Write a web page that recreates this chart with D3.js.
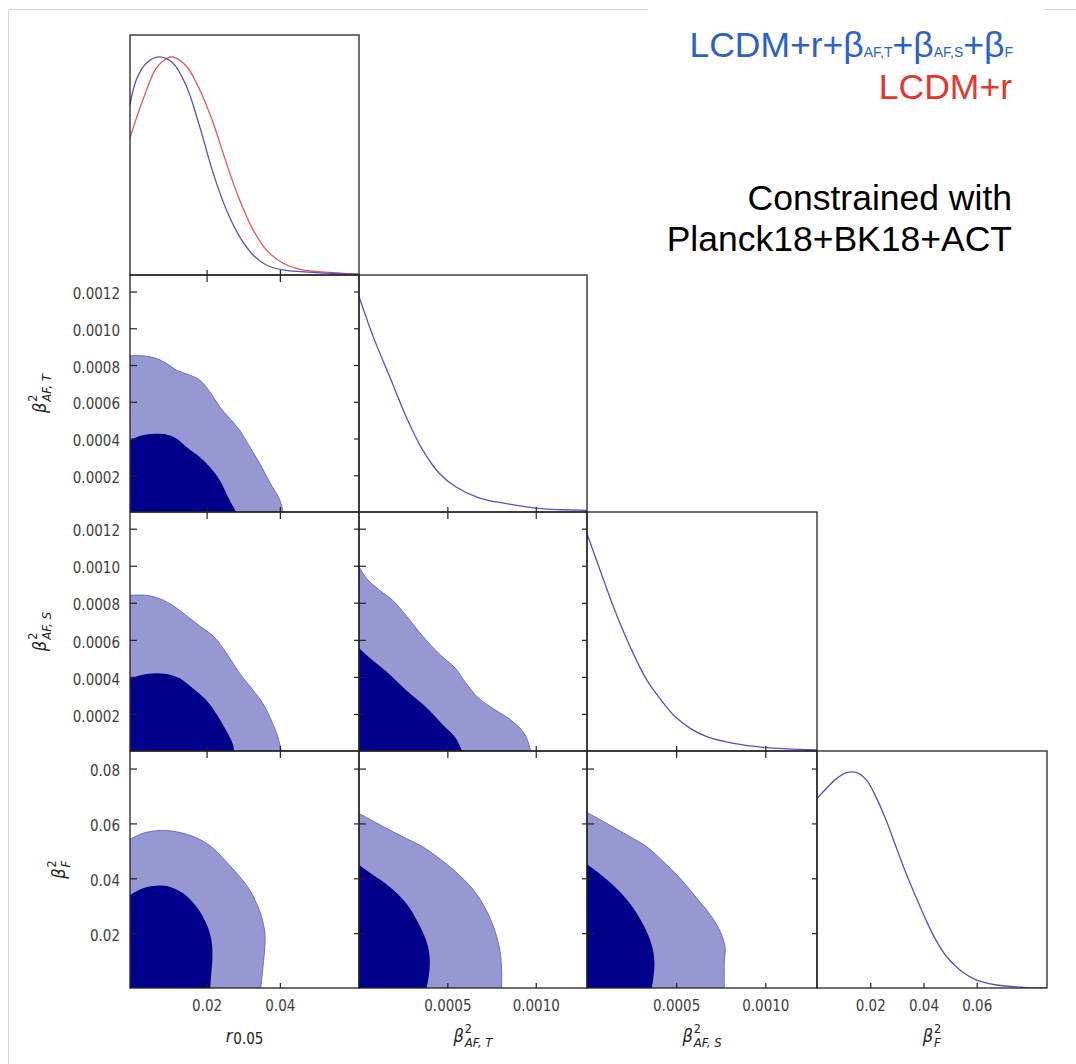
<!DOCTYPE html>
<html>
<head>
<meta charset="utf-8">
<script src="https://cdn.jsdelivr.net/npm/d3@7"></script>
<style>
  body { margin: 0; background: #fff; }
  svg { display: block; font-family: "DejaVu Sans Condensed", "DejaVu Sans", sans-serif; }
</style>
</head>
<body>
<svg id="chart" width="1076" height="1064"></svg>
<script>
// ---------- parameter limits ----------
const rRange = [-0.0009, 0.0616];
const betaATRange = [0, 0.00129];
const betaASRange = [0, 0.00129];
const betaFRange = [0, 0.0864];

// ---------- tick values ----------
const rTicks = [0.02, 0.04];
const betaAFxTicks = [0.0005, 0.0010];
const betaAFyTicks = [0.0002, 0.0004, 0.0006, 0.0008, 0.0010, 0.0012];
const betaFxTicks = [0.02, 0.04, 0.06];
const betaFyTicks = [0.02, 0.04, 0.06, 0.08];

// ---------- 1D marginals, normalised to a peak of 1 ----------
const rPdfFull = [[-0.0009,0.78],[0.00085,0.896],[0.0036,0.972],[0.0070,1.0],[0.0108,0.972],[0.0145,0.865],[0.0181,0.681],[0.0218,0.467],[0.0254,0.299],[0.0290,0.176],[0.0327,0.092],[0.0363,0.046],[0.0409,0.023],[0.0500,0.011],[0.0616,0.004]];
const rPdfLCDM = [[-0.0009,0.628],[0.00265,0.804],[0.0063,0.949],[0.0090,0.991],[0.0107,1.0],[0.0145,0.957],[0.0181,0.85],[0.0218,0.697],[0.0254,0.513],[0.0290,0.345],[0.0327,0.207],[0.0363,0.115],[0.0409,0.054],[0.0454,0.026],[0.0544,0.011],[0.0616,0.004]];
const betaATPdf = [[0,1.0],[0.00008,0.814],[0.000174,0.628],[0.000267,0.442],[0.00036,0.288],[0.000454,0.18],[0.000547,0.117],[0.000678,0.066],[0.000827,0.040],[0.001013,0.017],[0.00129,0.008]];
const betaASPdf = [[0,1.0],[0.000073,0.833],[0.000148,0.664],[0.000242,0.48],[0.000335,0.327],[0.000429,0.22],[0.000485,0.166],[0.000579,0.104],[0.000672,0.066],[0.000822,0.035],[0.00099,0.017],[0.00129,0.005]];
const betaFPdf = [[0,0.88],[0.0036,0.927],[0.0074,0.973],[0.0111,1.0],[0.0149,1.0],[0.0186,0.965],[0.0224,0.88],[0.0262,0.772],[0.0299,0.648],[0.0337,0.524],[0.0374,0.416],[0.0412,0.308],[0.045,0.215],[0.0487,0.145],[0.0537,0.084],[0.06,0.037],[0.0675,0.014],[0.0775,0.003],[0.0864,0.0]];

// ---------- 2D credible-region boundaries (68% inner, 95% outer) ----------
const rBetaATOuter = [[-0.0009,0.00085],[0.00265,0.00085],[0.0063,0.000836],[0.0090,0.000809],[0.0118,0.000772],[0.0154,0.000745],[0.0181,0.000718],[0.0209,0.000654],[0.0236,0.000572],[0.0263,0.000509],[0.0290,0.000445],[0.0318,0.000354],[0.0345,0.000264],[0.0372,0.000163],[0.0400,0.000064],[0.0409,0]];
const rBetaATInner = [[-0.0009,0.00039],[0.0012,0.00041],[0.0036,0.000422],[0.0090,0.000422],[0.0118,0.0004],[0.0145,0.000354],[0.0181,0.0003],[0.0209,0.000245],[0.0236,0.000173],[0.0263,0.000064],[0.0281,0]];
const rBetaASOuter = [[-0.0009,0.00084],[0.0036,0.00084],[0.0072,0.000822],[0.0108,0.000785],[0.0145,0.00073],[0.0181,0.000675],[0.0218,0.00062],[0.0254,0.000529],[0.0290,0.000419],[0.0327,0.000328],[0.0354,0.000255],[0.0381,0.000145],[0.0395,0.000072],[0.0404,0]];
const rBetaASInner = [[-0.0009,0.000392],[0.0036,0.000416],[0.0090,0.000416],[0.0127,0.000392],[0.0163,0.000337],[0.0200,0.000273],[0.0227,0.0002],[0.0254,0.000109],[0.0272,0.0000356],[0.0275,0]];
const betaATBetaASOuter = [[0,0.000995],[0.000043,0.000931],[0.000117,0.000867],[0.000192,0.000812],[0.000267,0.00073],[0.00036,0.00062],[0.000453,0.000525],[0.000546,0.000445],[0.000602,0.00037],[0.000677,0.000285],[0.00077,0.000222],[0.000863,0.000164],[0.000938,0.00009],[0.000971,0]];
const betaATBetaASInner = [[0,0.000556],[0.0000615,0.000502],[0.000155,0.000429],[0.000267,0.000328],[0.000379,0.000237],[0.000471,0.000145],[0.000546,0.000072],[0.000583,0]];
const rBetaFOuter = [[-0.0009,0.0542],[0.00265,0.0564],[0.0063,0.0573],[0.0099,0.0573],[0.0136,0.0564],[0.0181,0.0542],[0.0218,0.0509],[0.0254,0.046],[0.0290,0.0406],[0.0318,0.0357],[0.0336,0.0309],[0.0350,0.026],[0.0359,0.02],[0.0359,0.0151],[0.0354,0.0079],[0.0348,0]];
const rBetaFInner = [[-0.0009,0.0339],[0.00265,0.0364],[0.0063,0.0373],[0.0099,0.0369],[0.0136,0.0345],[0.0172,0.0297],[0.0199,0.0236],[0.0213,0.0176],[0.0216,0.0115],[0.0213,0.0055],[0.0210,0]];
const betaATBetaFOuter = [[0,0.0636],[0.00008,0.0608],[0.000173,0.0576],[0.000267,0.0545],[0.00036,0.0515],[0.000453,0.0473],[0.000546,0.0424],[0.000639,0.0364],[0.000714,0.0291],[0.00077,0.0206],[0.000798,0.0133],[0.000807,0.006],[0.000807,0]];
const betaATBetaFInner = [[0,0.0448],[0.00008,0.0412],[0.000173,0.0369],[0.000267,0.0309],[0.000341,0.023],[0.000388,0.0157],[0.000401,0.0097],[0.000393,0.0036],[0.000382,0]];
const betaASBetaFOuter = [[0,0.064],[0.000111,0.06],[0.000223,0.0558],[0.000335,0.0515],[0.000429,0.046],[0.000522,0.04],[0.000616,0.0327],[0.000691,0.0267],[0.000747,0.0206],[0.000775,0.0145],[0.00077,0.0097],[0.00077,0]];
const betaASBetaFInner = [[0,0.0451],[0.0000916,0.0406],[0.000185,0.0351],[0.00026,0.0291],[0.000326,0.0218],[0.000363,0.0157],[0.000378,0.0097],[0.000372,0.0036],[0.000363,0]];

// ---------- layout and style ----------
const colEdges = [130, 359, 587, 817, 1047];
const rowEdges = [35, 275, 512, 751, 988];
const ranges = [rRange, betaATRange, betaASRange, betaFRange];
const xTickSets = [rTicks, betaAFxTicks, betaAFxTicks, betaFxTicks];
const yTickSets = [null, betaAFyTicks, betaAFyTicks, betaFyTicks];
const tickFormats = [d3.format('.2f'), d3.format('.4f'), d3.format('.4f'), d3.format('.2f')];

const innerFill = '#00008a';
const outerFill = '#9797d1';
const outerEdge = '#6b6bd2';
const lineBlue = '#5252c8';
const lineRed = '#e65656';
const axisColor = '#222';
const tickLabelColor = '#3d3d3d';

const svg = d3.select('#chart');

// light frame around the figure
svg.append('line').attr('x1', 8).attr('x2', 648).attr('y1', 9.5).attr('y2', 9.5).attr('stroke', '#d6d6d6');
svg.append('line').attr('x1', 1044).attr('x2', 1076).attr('y1', 9.5).attr('y2', 9.5).attr('stroke', '#d6d6d6');
svg.append('line').attr('x1', 8.5).attr('x2', 8.5).attr('y1', 9).attr('y2', 1064).attr('stroke', '#d6d6d6');

const xScale = i => d3.scaleLinear().domain(ranges[i]).range([colEdges[i], colEdges[i + 1]]);
const yScale = j => d3.scaleLinear().domain(ranges[j]).range([rowEdges[j + 1], rowEdges[j]]);

const defs = svg.append('defs');
function clipFor(i, j) {
  const id = `clip-${i}-${j}`;
  defs.append('clipPath').attr('id', id).append('rect')
    .attr('x', colEdges[i]).attr('y', rowEdges[j])
    .attr('width', colEdges[i + 1] - colEdges[i]).attr('height', rowEdges[j + 1] - rowEdges[j]);
  return `url(#${id})`;
}

// filled region bounded by the axes corner and a boundary curve
function regionPath(pts, xs, ys) {
  const line = d3.line().x(d => xs(d[0])).y(d => ys(d[1])).curve(d3.curveCatmullRom.alpha(0.5));
  const corner = [xs(xs.domain()[0]), ys(ys.domain()[0])];
  return `M${corner[0]},${corner[1]}L` + line(pts).slice(1) + 'Z';
}
function boundaryPath(pts, xs, ys) {
  return d3.line().x(d => xs(d[0])).y(d => ys(d[1])).curve(d3.curveCatmullRom.alpha(0.5))(pts);
}

// ---------- 2D panels ----------
const panels2D = [
  { col: 0, row: 1, outer: rBetaATOuter, inner: rBetaATInner },
  { col: 0, row: 2, outer: rBetaASOuter, inner: rBetaASInner },
  { col: 1, row: 2, outer: betaATBetaASOuter, inner: betaATBetaASInner },
  { col: 0, row: 3, outer: rBetaFOuter, inner: rBetaFInner },
  { col: 1, row: 3, outer: betaATBetaFOuter, inner: betaATBetaFInner },
  { col: 2, row: 3, outer: betaASBetaFOuter, inner: betaASBetaFInner }
];

panels2D.forEach(p => {
  const xs = xScale(p.col), ys = yScale(p.row);
  const g = svg.append('g').attr('clip-path', clipFor(p.col, p.row));
  g.append('path').attr('d', regionPath(p.outer, xs, ys)).attr('fill', outerFill);
  g.append('path').attr('d', boundaryPath(p.outer, xs, ys)).attr('fill', 'none')
    .attr('stroke', outerEdge).attr('stroke-width', 1);
  g.append('path').attr('d', regionPath(p.inner, xs, ys)).attr('fill', innerFill);
});

// ---------- 1D panels ----------
const panels1D = [
  { idx: 0, curves: [[rPdfLCDM, lineRed], [rPdfFull, lineBlue]] },
  { idx: 1, curves: [[betaATPdf, lineBlue]] },
  { idx: 2, curves: [[betaASPdf, lineBlue]] },
  { idx: 3, curves: [[betaFPdf, lineBlue]] }
];

panels1D.forEach(p => {
  const xs = xScale(p.idx);
  const ys = d3.scaleLinear().domain([0, 1.1]).range([rowEdges[p.idx + 1], rowEdges[p.idx]]);
  const g = svg.append('g').attr('clip-path', clipFor(p.idx, p.idx));
  const line = d3.line().x(d => xs(d[0])).y(d => ys(d[1])).curve(d3.curveCatmullRom.alpha(0.5));
  p.curves.forEach(([data, color]) => {
    g.append('path').attr('d', line(data)).attr('fill', 'none')
      .attr('stroke', color).attr('stroke-width', 1.3);
  });
});

// ---------- axes, ticks and frames ----------
function styleAxis(g) {
  g.select('.domain').remove();
  g.attr('font-family', null).attr('font-size', null);
  g.selectAll('.tick line').attr('stroke', axisColor).attr('stroke-width', 1.2);
  g.selectAll('.tick text').attr('fill', tickLabelColor).attr('font-size', 15);
}

for (let j = 0; j < 4; j++) {
  for (let i = 0; i <= j; i++) {
    const xs = xScale(i);
    const top = rowEdges[j], bottom = rowEdges[j + 1];
    const left = colEdges[i], right = colEdges[i + 1];

    // bottom ticks (labels only on the last row)
    const bx = svg.append('g').attr('transform', `translate(0,${bottom})`)
      .call(d3.axisBottom(xs).tickValues(xTickSets[i]).tickSizeInner(-5).tickSizeOuter(0)
        .tickPadding(12).tickFormat(j === 3 ? tickFormats[i] : () => ''));
    styleAxis(bx);

    if (i < j) {
      const ys = yScale(j);
      const tx = svg.append('g').attr('transform', `translate(0,${top})`)
        .call(d3.axisTop(xs).tickValues(xTickSets[i]).tickSizeInner(-7).tickSizeOuter(0).tickFormat(() => ''));
      styleAxis(tx);
      const ly = svg.append('g').attr('transform', `translate(${left},0)`)
        .call(d3.axisLeft(ys).tickValues(yTickSets[j]).tickSizeInner(-7).tickSizeOuter(0)
          .tickPadding(10).tickFormat(i === 0 ? tickFormats[j] : () => ''));
      styleAxis(ly);
      ly.selectAll('.tick text').attr('dy', '0.48em');
      const ry = svg.append('g').attr('transform', `translate(${right},0)`)
        .call(d3.axisRight(ys).tickValues(yTickSets[j]).tickSizeInner(-5).tickSizeOuter(0).tickFormat(() => ''));
      styleAxis(ry);
    }

    svg.append('rect').attr('x', left).attr('y', top)
      .attr('width', right - left).attr('height', bottom - top)
      .attr('fill', 'none').attr('stroke', axisColor).attr('stroke-width', 1.3);
  }
}

// ---------- axis labels ----------
function mathLabel(parent, base, sup, sub, subItalic) {
  const g = parent.append('g').attr('fill', '#222');
  const t0 = g.append('text').text(base).attr('font-style', 'italic').attr('font-size', 18);
  const bw = t0.node().getComputedTextLength();
  let w = bw;
  if (sup) {
    const t = g.append('text').text(sup).attr('x', bw + 1).attr('y', -9).attr('font-size', 12.5);
    w = Math.max(w, bw + 1 + t.node().getComputedTextLength());
  }
  if (sub) {
    const t = g.append('text').text(sub).attr('x', bw + 1).attr('y', sup ? 5 : 2)
      .attr('font-size', sup ? 13 : 15).attr('font-style', subItalic ? 'italic' : 'normal');
    w = Math.max(w, bw + 1 + t.node().getComputedTextLength());
  }
  g.selectAll('text').attr('transform', `translate(${-w / 2},0)`);
  return g;
}

const labelDefs = [
  ['r', null, '0.05', false],
  ['β', '2', 'AF, T', true],
  ['β', '2', 'AF, S', true],
  ['β', '2', 'F', true]
];

labelDefs.forEach((d, i) => {
  const cx = (colEdges[i] + colEdges[i + 1]) / 2;
  mathLabel(svg, d[0], d[1], d[2], d[3]).attr('transform', `translate(${cx},1042)`);
});

const yLabelX = [null, 46, 46, 65];
for (let j = 1; j < 4; j++) {
  const cy = (rowEdges[j] + rowEdges[j + 1]) / 2;
  const d = labelDefs[j];
  mathLabel(svg, d[0], d[1], d[2], d[3]).attr('transform', `translate(${yLabelX[j]},${cy}) rotate(-90)`);
}

// ---------- legend and annotation ----------
const legendFont = 'Liberation Sans, Arial, Helvetica, sans-serif';
const blue = svg.append('text').attr('x', 1013).attr('y', 57).attr('text-anchor', 'end')
  .attr('font-family', legendFont).attr('fill', '#2d5fcd');
[['LCDM+r+β', 35.5], ['AF,T', 14], ['+β', 35.5], ['AF,S', 14], ['+β', 35.5], ['F', 14]].forEach(([s, fs]) => {
  blue.append('tspan').attr('font-size', fs).text(s);
});
svg.append('text').attr('x', 1012).attr('y', 99).attr('text-anchor', 'end')
  .attr('font-family', legendFont).attr('font-size', 35.5).attr('fill', '#e5362c').text('LCDM+r');
svg.append('text').attr('x', 1012).attr('y', 210).attr('text-anchor', 'end')
  .attr('font-family', legendFont).attr('font-size', 35.5).attr('fill', '#000').text('Constrained with');
svg.append('text').attr('x', 1012).attr('y', 251).attr('text-anchor', 'end')
  .attr('font-family', legendFont).attr('font-size', 35.5).attr('fill', '#000').text('Planck18+BK18+ACT');
</script>
</body>
</html>
